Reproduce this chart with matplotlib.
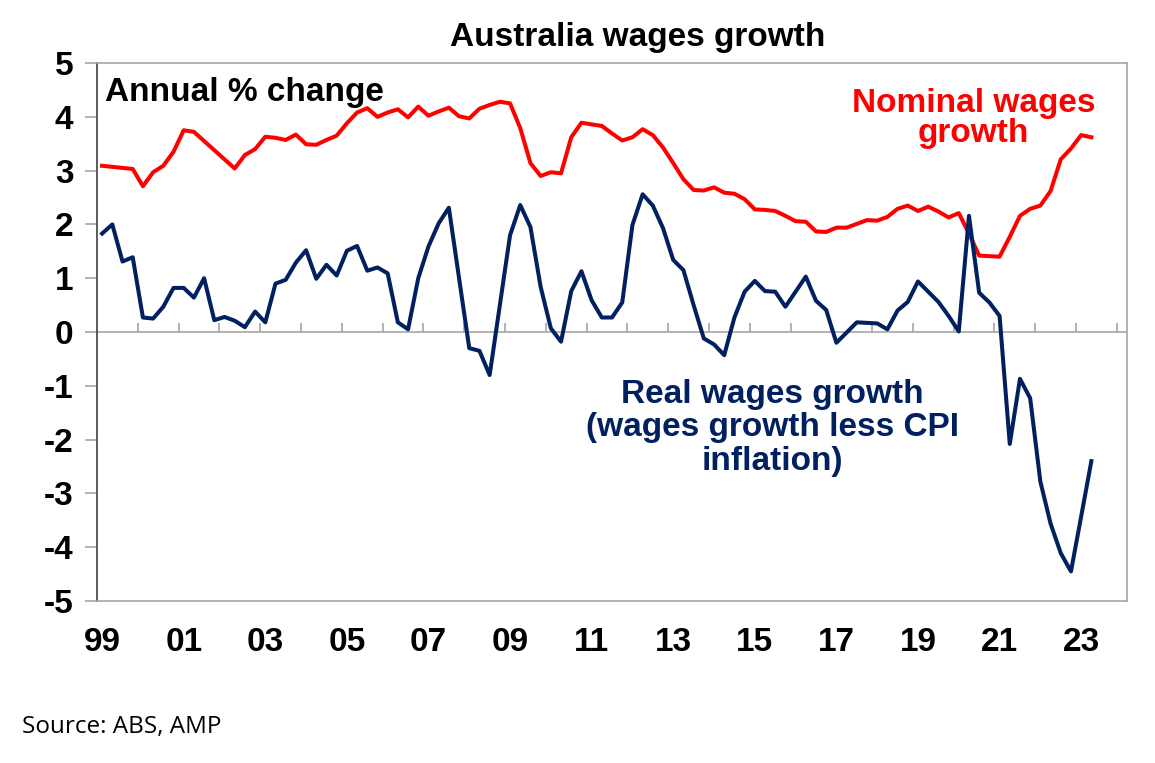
import matplotlib
matplotlib.use('Agg')
import matplotlib.pyplot as plt
import numpy as np

# quarterly data, 1999 Q1 .. 2023 Q2
nominal = [3.09, 3.07, 3.05, 3.03, 2.71, 2.97, 3.09, 3.35, 3.75, 3.72,
           3.55, 3.38, 3.21, 3.04, 3.29, 3.40, 3.63, 3.61, 3.57, 3.67,
           3.49, 3.48, 3.57, 3.65, 3.88, 4.08, 4.16, 4.00, 4.08, 4.14,
           3.99, 4.19, 4.02, 4.10, 4.17, 4.01, 3.97, 4.15, 4.22, 4.28,
           4.25, 3.79, 3.14, 2.90, 2.97, 2.95, 3.62, 3.89, 3.86, 3.83,
           3.69, 3.56, 3.62, 3.77, 3.66, 3.43, 3.14, 2.84, 2.64, 2.63,
           2.69, 2.59, 2.57, 2.47, 2.28, 2.27, 2.25, 2.16, 2.06, 2.05,
           1.87, 1.86, 1.94, 1.94, 2.01, 2.08, 2.07, 2.14, 2.29, 2.35,
           2.25, 2.33, 2.24, 2.13, 2.21, 1.83, 1.42, 1.41, 1.40, 1.77,
           2.16, 2.29, 2.35, 2.62, 3.21, 3.41, 3.66, 3.62]

real = [1.83, 2.00, 1.31, 1.39, 0.27, 0.25, 0.47, 0.82, 0.82, 0.64,
        1.00, 0.22, 0.28, 0.21, 0.09, 0.38, 0.18, 0.90, 0.97, 1.29,
        1.52, 0.99, 1.25, 1.05, 1.51, 1.60, 1.14, 1.20, 1.09, 0.18,
        0.05, 1.00, 1.59, 2.02, 2.31, 1.00, -0.30, -0.35, -0.80, 0.50,
        1.80, 2.36, 1.95, 0.84, 0.07, -0.18, 0.76, 1.13, 0.59, 0.27,
        0.27, 0.55, 1.99, 2.56, 2.35, 1.93, 1.34, 1.15, 0.50, -0.12,
        -0.23, -0.43, 0.27, 0.75, 0.95, 0.76, 0.75, 0.47, 0.75, 1.03,
        0.58, 0.41, -0.20, -0.01, 0.18, 0.17, 0.16, 0.05, 0.40, 0.56,
        0.94, 0.75, 0.56, 0.30, 0.01, 2.16, 0.73, 0.55, 0.30, -2.08,
        -0.87, -1.23, -2.78, -3.56, -4.11, -4.45, -3.43, -2.40]

year_labels = ['99', '01', '03', '05', '07', '09', '11', '13',
               '15', '17', '19', '21', '23']
y_ticks = [5, 4, 3, 2, 1, 0, -1, -2, -3, -4, -5]

RED = '#FF0000'
NAVY = '#002060'
GREY = '#A6A6A6'

plt.rcParams['font.family'] = ['Liberation Sans', 'DejaVu Sans']
plt.rcParams['font.weight'] = 'bold'

fig = plt.figure(figsize=(11.55, 7.63), dpi=100)
ax = fig.add_axes([0.084, 0.2123, 0.8918, 0.7051])

x = np.arange(len(nominal))
ax.plot(x, nominal, color=RED, lw=2.9, solid_joinstyle='round', zorder=3)
ax.plot(x, real, color=NAVY, lw=2.9, solid_joinstyle='round', zorder=3)

ax.set_xlim(-0.5, 100.5)
ax.set_ylim(-5, 5)

# zero line with yearly tick marks between quarters
ax.axhline(0, color=GREY, lw=1.2, zorder=1)
ax.vlines(np.arange(3.5, 101, 4), 0, 0.17, color=GREY, lw=1.2, zorder=1)

ax.set_yticks(y_ticks)
ax.set_yticklabels([str(v) for v in y_ticks], fontsize=24, fontweight='bold')
ax.tick_params(axis='y', direction='out', length=9, width=1.2, color=GREY, pad=8)

ax.set_xticks(np.arange(0, len(nominal), 8))
ax.set_xticklabels(year_labels, fontsize=24, fontweight='bold')
ax.tick_params(axis='x', length=0, pad=19)

for side in ['top', 'right', 'bottom']:
    ax.spines[side].set_color(GREY)
    ax.spines[side].set_linewidth(1.2)
ax.spines['left'].set_color('#404040')
ax.spines['left'].set_linewidth(1.2)

fig.text(0.552, 0.94, 'Australia wages growth', ha='center', va='baseline',
         fontsize=24, fontweight='bold')

ax.text(0.008, 0.929, 'Annual % change', transform=ax.transAxes,
        ha='left', va='baseline', fontsize=24, fontweight='bold')

ax.text(0.851, 0.853, 'Nominal wages\ngrowth', transform=ax.transAxes,
        ha='center', va='baseline', fontsize=24, fontweight='bold',
        color=RED, linespacing=0.95)

ax.text(0.656, 0.243, 'Real wages growth\n(wages growth less CPI\ninflation)',
        transform=ax.transAxes, ha='center', va='baseline', fontsize=24,
        fontweight='bold', color=NAVY, linespacing=1.12)

fig.text(0.019, 1 - 733 / 763, 'Source: ABS, AMP', ha='left', va='baseline',
         fontsize=17.5, fontweight='normal', family=['Open Sans', 'DejaVu Sans'])

fig.savefig('out.png', dpi=100)
